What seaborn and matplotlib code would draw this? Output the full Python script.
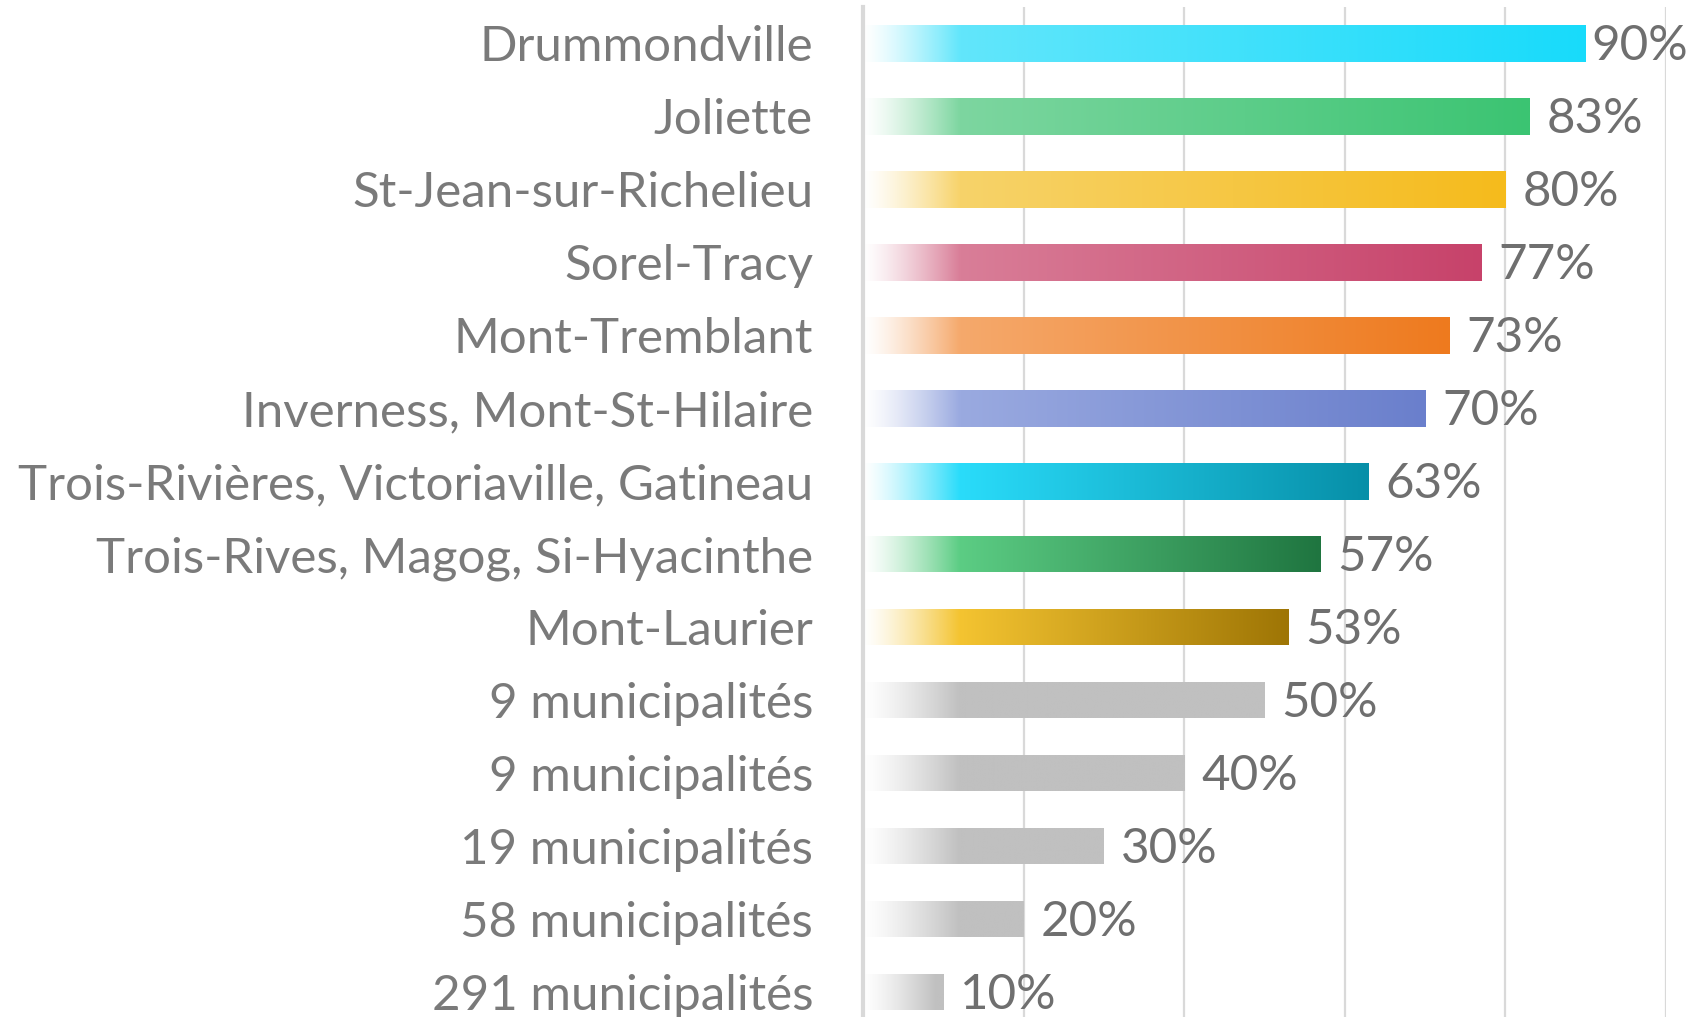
import numpy as np
import pandas as pd
import matplotlib
matplotlib.use("Agg")
import matplotlib.pyplot as plt
import matplotlib.colors as mcolors
import seaborn as sns

categories = ["Drummondville", "Joliette", "St-Jean-sur-Richelieu", "Sorel-Tracy",
              "Mont-Tremblant", "Inverness, Mont-St-Hilaire",
              "Trois-Rivières, Victoriaville, Gatineau", "Trois-Rives, Magog, Si-Hyacinthe",
              "Mont-Laurier", "9 municipalités", "9 municipalités", "19 municipalités",
              "58 municipalités", "291 municipalités"]
values = [90, 83, 80, 77, 73, 70, 63, 57, 53, 50, 40, 30, 20, 10]
value_labels = ["90%", "83%", "80%", "77%", "73%", "70%", "63%", "57%", "53%",
                "50%", "40%", "30%", "20%", "10%"]
mid_colors = ["#62e6fb", "#7dd6a0", "#f7d36a", "#d97e98", "#f5a96c", "#9aaae0",
              "#2adcfa", "#5ccd84", "#f4c431", "#c0c0c0", "#c0c0c0", "#c0c0c0",
              "#c0c0c0", "#c0c0c0"]
end_colors = ["#18dbfb", "#3bc472", "#f5bb1c", "#c7426a", "#ee7a1e", "#6a7fcc",
              "#078fa8", "#1f7540", "#9e7505", "#c0c0c0", "#c0c0c0", "#c0c0c0",
              "#c0c0c0", "#c0c0c0"]

sns.set_theme(style="white")
plt.rcParams['font.family'] = ['Lato', 'DejaVu Sans']

W, H = 1704, 1017
fig = plt.figure(figsize=(W / 100, H / 100), dpi=100)
left_px, right_px, top_px, bottom_px = 863, 1666, 7, 1028.5
ax = fig.add_axes([left_px / W, (H - bottom_px) / H, (right_px - left_px) / W, (bottom_px - top_px) / H])

df = pd.DataFrame({"cat": [f"{i}" for i in range(len(categories))], "val": values})
sns.barplot(data=df, x="val", y="cat", orient="h", width=0.5, ax=ax,
            color="white", edgecolor="none", linewidth=0, zorder=2)

texts = []
for i, patch in enumerate(ax.patches):
    x0, y0 = patch.get_x(), patch.get_y()
    w, h = patch.get_width(), patch.get_height()
    n = 400
    xs = np.linspace(0, w, n)
    ramp = min(12.0, 0.9 * w)
    white = np.array([1.0, 1.0, 1.0])
    a = np.array(mcolors.to_rgb(mid_colors[i]))
    b = np.array(mcolors.to_rgb(end_colors[i]))
    img = np.zeros((1, n, 3))
    for j, xv in enumerate(xs):
        if xv < ramp:
            t = (xv / ramp) ** 1.3
            img[0, j] = white * (1 - t) + a * t
        else:
            t = (xv - ramp) / max(w - ramp, 1e-6)
            img[0, j] = a * (1 - t) + b * t
    im = ax.imshow(img, extent=[x0, x0 + w, y0 + h, y0], aspect="auto",
                   interpolation="bilinear", zorder=2)
    im.set_clip_path(patch)
    t = ax.text(x0 + w + 2.1, y0 + h / 2 + 0.04, value_labels[i], va="center", ha="left",
                fontsize=35.5, color="#6f6f6f", clip_on=False, zorder=3)
    texts.append(t)

ax.set_aspect("auto")
ax.set_xlim(0, 100)
ax.set_ylim(len(categories) - 0.5, -0.5)

ax.set_xticks([0, 20, 40, 60, 80, 100])
ax.xaxis.grid(True, color="#d9d9d9", linewidth=1.6, zorder=0)
ax.set_axisbelow(True)
ax.set_xticklabels([])
ax.tick_params(axis="x", length=0)
ax.set_yticks(range(len(categories)))
ax.set_yticklabels(categories, fontsize=35.5, color="#7a7a7a")
ax.tick_params(axis="y", length=0, pad=36)
ax.set_xlabel("")
ax.set_ylabel("")
for s in ["top", "right", "bottom"]:
    ax.spines[s].set_visible(False)
ax.spines["left"].set_color("#d9d9d9")
ax.spines["left"].set_linewidth(3)
ax.spines["left"].set_zorder(4)

# keep value labels inside the figure (like the chart area clamp)
fig.canvas.draw()
renderer = fig.canvas.get_renderer()
limit_px = W - 16
for t in texts:
    bb = t.get_window_extent(renderer)
    if bb.x1 > limit_px:
        shift = bb.x1 - limit_px
        x, y = t.get_position()
        dx = ax.transData.inverted().transform((shift, 0))[0] - ax.transData.inverted().transform((0, 0))[0]
        t.set_position((x - dx, y))

fig.savefig("out.png", dpi=100)
